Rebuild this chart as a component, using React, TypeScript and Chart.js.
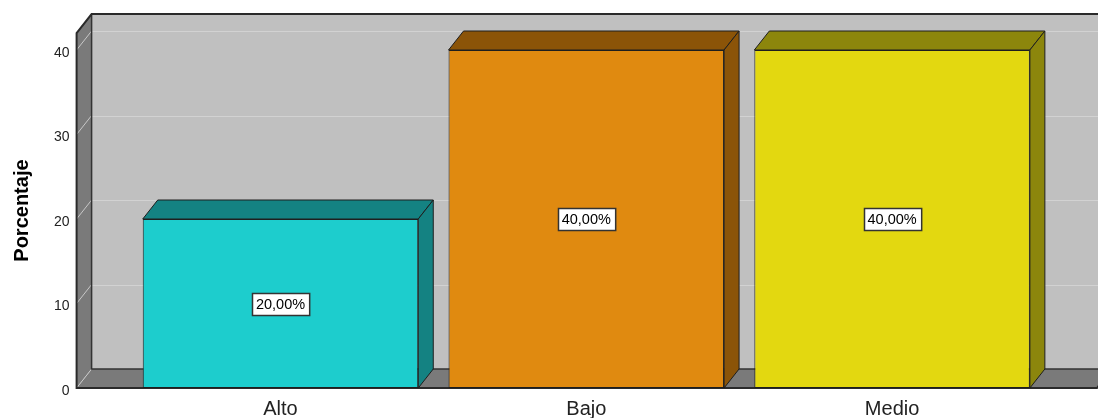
import React, { useEffect, useRef } from 'react';
import { Chart, registerables } from 'chart.js';

Chart.register(...registerables);

const categories = ['Alto', 'Bajo', 'Medio'];
const percentages = [20, 40, 40];
const frontColors = ['#1DCDCD', '#E08A10', '#E3D810'];
const shadeColors = ['#148282', '#8B5408', '#8C860C'];
const yTicks = [0, 10, 20, 30, 40];
const yMax = 42;
const yTitle = 'Porcentaje';

const DX = 15;
const DY = -19;
const PAD_L = 51;
const PAD_R = 52;
const FONT = '"Liberation Sans", Arial, sans-serif';
const AREA = { left: 127.6, right: 1045, top: 33.1, bottom: 388 };

const fmt = (v: number) => v.toFixed(2).replace('.', ',') + '%';

const frame3d = {
  id: 'frame3d',
  beforeDatasetsDraw(chart: any) {
    const { ctx, chartArea, scales } = chart;
    const ys = scales.y;
    const L = chartArea.left - PAD_L;
    const R = chartArea.right + PAD_R;
    const T = ys.getPixelForValue(yMax);
    const B = ys.getPixelForValue(0);
    ctx.save();
    ctx.fillStyle = '#C0C0C0';
    ctx.fillRect(L + DX, T + DY, R - L + 40, B - T);
    ctx.strokeStyle = '#D2D2D2';
    ctx.lineWidth = 1;
    yTicks.forEach((v) => {
      const y = Math.round(ys.getPixelForValue(v) + DY) + 0.5;
      ctx.beginPath();
      ctx.moveTo(L + DX, y);
      ctx.lineTo(R + DX + 40, y);
      ctx.stroke();
    });
    ctx.fillStyle = '#7A7A7A';
    ctx.beginPath();
    ctx.moveTo(L, B);
    ctx.lineTo(R, B);
    ctx.lineTo(R + DX, B + DY);
    ctx.lineTo(L + DX, B + DY);
    ctx.closePath();
    ctx.fill();
    ctx.beginPath();
    ctx.moveTo(L, T);
    ctx.lineTo(L + DX, T + DY);
    ctx.lineTo(L + DX, B + DY);
    ctx.lineTo(L, B);
    ctx.closePath();
    ctx.fill();
    ctx.strokeStyle = '#C8C8C8';
    yTicks.forEach((v) => {
      const y = ys.getPixelForValue(v);
      ctx.beginPath();
      ctx.moveTo(L, y);
      ctx.lineTo(L + DX, y + DY);
      ctx.stroke();
    });
    ctx.strokeStyle = '#333333';
    ctx.lineWidth = 1.5;
    ctx.beginPath();
    ctx.moveTo(L + DX, T + DY);
    ctx.lineTo(L + DX, B + DY);
    ctx.lineTo(R + DX + 40, B + DY);
    ctx.stroke();
    ctx.strokeStyle = '#2A2A2A';
    ctx.lineWidth = 2;
    ctx.beginPath();
    ctx.moveTo(R + DX + 40, T + DY);
    ctx.lineTo(L + DX, T + DY);
    ctx.lineTo(L, T);
    ctx.lineTo(L, B);
    ctx.lineTo(R, B);
    ctx.lineTo(R + DX, B + DY);
    ctx.stroke();
    ctx.restore();
  },
  afterDatasetsDraw(chart: any) {
    const { ctx, scales } = chart;
    const ys = scales.y;
    const meta = chart.getDatasetMeta(0);
    ctx.save();
    meta.data.forEach((bar: any, i: number) => {
      const { x, y, base, width } = bar.getProps(['x', 'y', 'base', 'width'], true);
      const l = x - width / 2;
      const r = x + width / 2;
      ctx.fillStyle = shadeColors[i];
      ctx.strokeStyle = '#1E1E1E';
      ctx.lineWidth = 1;
      ctx.lineJoin = 'miter';
      ctx.beginPath();
      ctx.moveTo(l, y);
      ctx.lineTo(l + DX, y + DY);
      ctx.lineTo(r + DX, y + DY);
      ctx.lineTo(r, y);
      ctx.closePath();
      ctx.fill();
      ctx.stroke();
      ctx.beginPath();
      ctx.moveTo(r, y);
      ctx.lineTo(r + DX, y + DY);
      ctx.lineTo(r + DX, base + DY);
      ctx.lineTo(r, base);
      ctx.closePath();
      ctx.fill();
      ctx.stroke();
      const v = percentages[i];
      const ly = ys.getPixelForValue(v / 2);
      const text = fmt(v);
      ctx.font = '14.5px ' + FONT;
      const tw = ctx.measureText(text).width;
      const bw = tw + 8;
      const bh = 22;
      const bx = Math.round(x - bw / 2) + 0.5;
      const by = Math.round(ly - bh / 2) + 0.5;
      ctx.fillStyle = '#FFFFFF';
      ctx.fillRect(bx, by, bw, bh);
      ctx.strokeStyle = '#333333';
      ctx.lineWidth = 1.5;
      ctx.strokeRect(bx, by, bw, bh);
      ctx.fillStyle = '#000000';
      ctx.textAlign = 'center';
      ctx.textBaseline = 'middle';
      ctx.fillText(text, x, ly + 1);
    });
    ctx.restore();
  },
};

export default function App() {
  const ref = useRef<HTMLCanvasElement | null>(null);
  useEffect(() => {
    if (!ref.current) return;
    const chart: any = new Chart(ref.current, {
      type: 'bar',
      data: {
        labels: categories,
        datasets: [
          {
            data: percentages,
            backgroundColor: frontColors,
            borderColor: '#1E1E1E',
            borderWidth: 1,
            borderSkipped: false,
            categoryPercentage: 1,
            barPercentage: 0.901,
          },
        ],
      },
      options: {
        animation: false,
        responsive: false,
        devicePixelRatio: 1,
        layout: { padding: { top: 33, right: 53, bottom: 0, left: 0 } },
        plugins: { legend: { display: false }, tooltip: { enabled: false } },
        scales: {
          x: {
            grid: { display: false, drawTicks: false },
            border: { display: false },
            ticks: { color: '#222222', font: { family: FONT, size: 20 }, padding: 9, maxRotation: 0 },
            afterFit: (s: any) => {
              s.paddingLeft = 0;
              s.paddingRight = 0;
            },
          },
          y: {
            min: 0,
            max: yMax,
            grid: { display: false, drawTicks: false },
            border: { display: false },
            afterBuildTicks: (s: any) => {
              s.ticks = yTicks.map((v) => ({ value: v }));
            },
            ticks: {
              color: '#222222',
              font: { family: FONT, size: 14 },
              padding: 58,
              labelOffset: 3,
            },
            title: {
              display: true,
              text: yTitle,
              color: '#000000',
              font: { family: FONT, size: 20, weight: 'bold' },
              padding: { top: 10, bottom: 0 },
            },
            afterFit: (s: any) => {
              s.width = 127.6;
              s.paddingTop = 0;
              s.paddingBottom = 0;
            },
          },
        },
      },
      plugins: [frame3d],
    });
    for (let k = 0; k < 4; k++) {
      const a = chart.chartArea;
      const p = chart.options.layout.padding;
      const dt = AREA.top - a.top;
      const db = a.bottom - AREA.bottom;
      const dl = AREA.left - a.left;
      const dr = a.right - AREA.right;
      if (Math.abs(dt) + Math.abs(db) + Math.abs(dl) + Math.abs(dr) < 0.05) break;
      chart.options.layout.padding = {
        top: p.top + dt,
        bottom: p.bottom + db,
        left: p.left + dl,
        right: p.right + dr,
      };
      chart.update();
    }
    return () => chart.destroy();
  }, []);
  return (
    <div style={{ position: 'fixed', left: 0, top: 0, width: 1098, height: 418 }}>
      <canvas ref={ref} width={1098} height={418} style={{ display: 'block' }} />
    </div>
  );
}
